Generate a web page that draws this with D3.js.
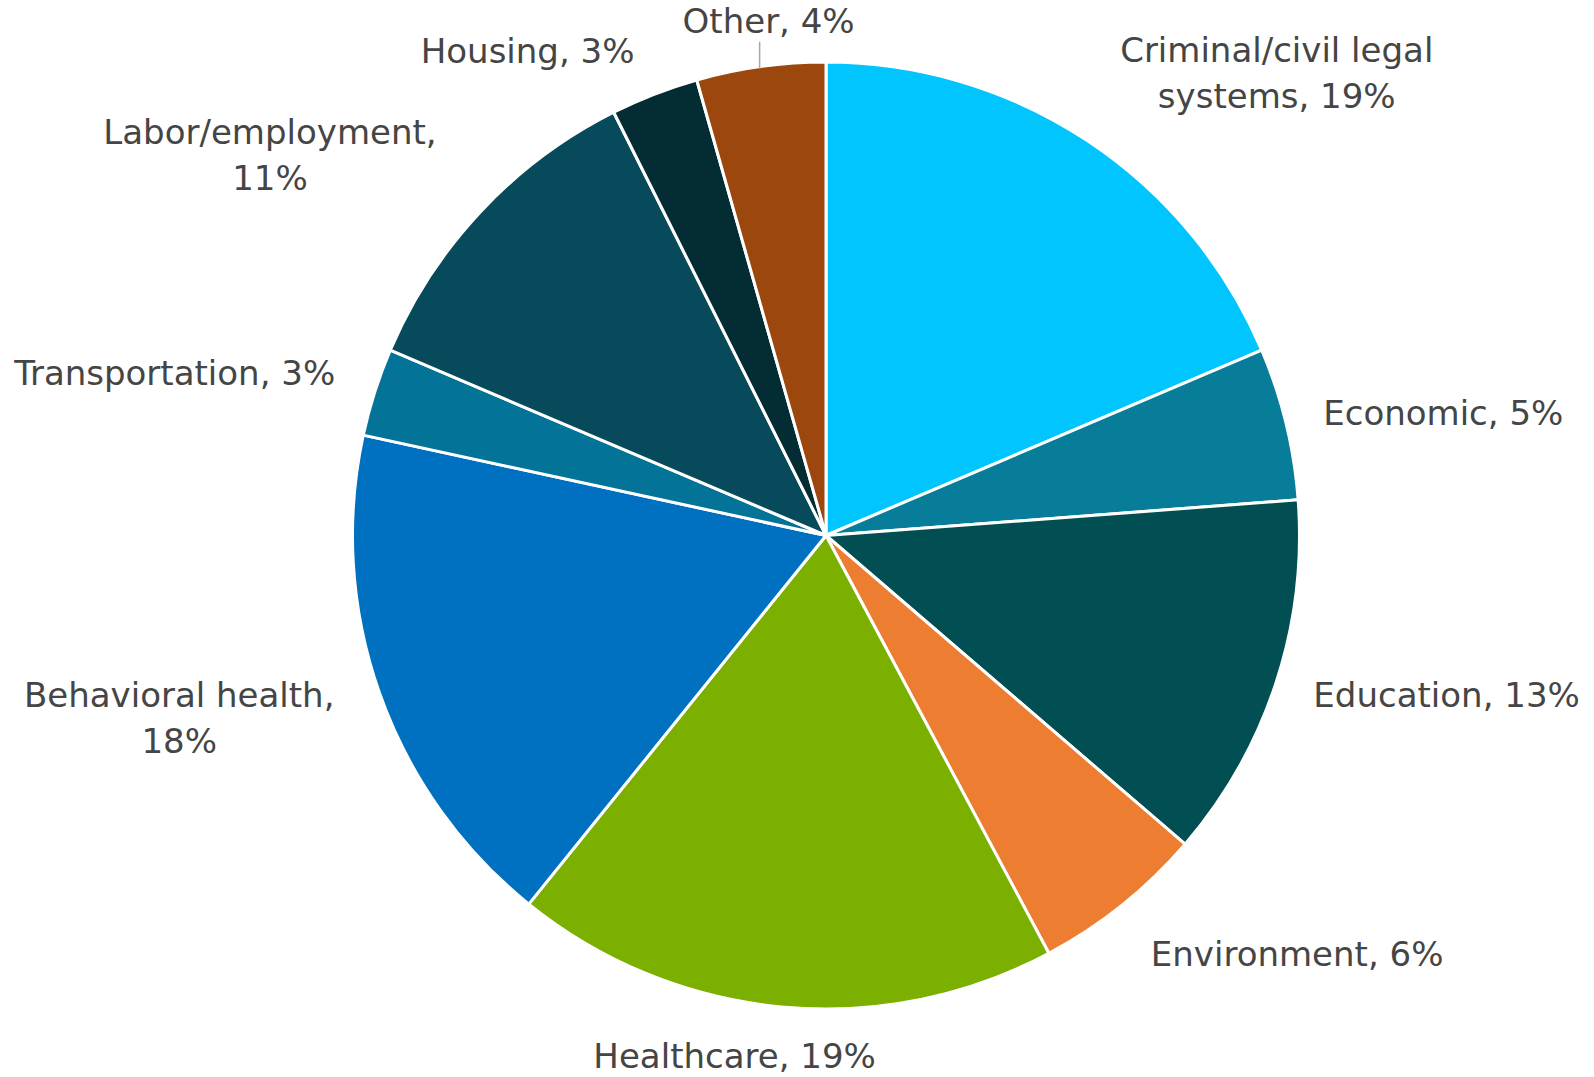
<!DOCTYPE html>
<html>
<head>
  <title>Share by category</title>
  <script src="https://cdn.jsdelivr.net/npm/d3@7"></script>
  <style>
    body { margin: 0; background: #fff; }
    .label { font-family: "DejaVu Sans", sans-serif; font-size: 34px; fill: #454545; }
  </style>
</head>
<body>
  <div id="chart"></div>
  <script>
    // Categories clockwise from 12 o'clock
    const categories = ["Criminal/civil legal systems", "Economic", "Education", "Environment",
      "Healthcare", "Behavioral health", "Transportation", "Labor/employment", "Housing", "Other"];
    const shares = [18.6, 5.2, 12.5, 5.9, 18.6, 17.6, 3.0, 11.2, 3.0, 4.4];
    const colors = ["#00C5FF", "#077D9A", "#014F53", "#ED7D31", "#7BAF00",
      "#0070C0", "#037497", "#064A5B", "#032D32", "#9C470D"];

    // label nudges from the outer label ring, anchor, words on first line (0 = single line)
    const labelLayout = [
      { dx: 173, dy: -54, anchor: "middle", split: 2 },
      { dx: 8, dy: 9, anchor: "start", split: 0 },
      { dx: 9, dy: 14, anchor: "start", split: 0 },
      { dx: 10, dy: 38, anchor: "start", split: 0 },
      { dx: -44, dy: 31, anchor: "middle", split: 0 },
      { dx: -172, dy: 4, anchor: "middle", split: 2 },
      { dx: -11, dy: 2, anchor: "end", split: 0 },
      { dx: -189, dy: -47, anchor: "middle", split: 1 },
      { dx: -116, dy: -3, anchor: "middle", split: 0 },
      { dx: 12, dy: -4, anchor: "middle", split: 0, leader: true }
    ];

    const width = 1594, height = 1077;
    const cx = 826, cy = 535.5, radius = 473.5;

    const data = categories.map((name, i) => ({ name, value: shares[i], color: colors[i], layout: labelLayout[i] }));

    const svg = d3.select("#chart").append("svg")
        .attr("width", width)
        .attr("height", height);

    const g = svg.append("g").attr("transform", `translate(${cx},${cy})`);

    const pie = d3.pie().sort(null).value(d => d.value);
    const arc = d3.arc().innerRadius(0).outerRadius(radius);
    const labelArc = d3.arc().innerRadius(radius + 30).outerRadius(radius + 30);

    const arcs = pie(data);

    g.selectAll(".slice")
      .data(arcs)
      .enter().append("path")
        .attr("class", "slice")
        .attr("d", arc)
        .attr("fill", d => d.data.color)
        .attr("stroke", "#fff")
        .attr("stroke-width", 3)
        .attr("stroke-linejoin", "round");

    const lineGap = 46;

    arcs.forEach(d => {
      const L = d.data.layout;
      const [px, py] = labelArc.centroid(d);
      const x = px + L.dx, y = py + L.dy;
      const full = `${d.data.name}, ${Math.round(d.data.value)}%`;
      const words = full.split(" ");
      const lines = L.split ? [words.slice(0, L.split).join(" "), words.slice(L.split).join(" ")] : [full];

      const t = g.append("text")
        .attr("class", "label")
        .attr("text-anchor", L.anchor)
        .attr("x", x)
        .attr("y", y);
      lines.forEach((ln, i) => {
        t.append("tspan").attr("x", x).attr("dy", i === 0 ? 0 : lineGap).text(ln);
      });

      // thin leader for the small top slice
      if (L.leader) {
        const lx = x - 9;
        const edgeY = -Math.sqrt(radius * radius - lx * lx);
        g.append("line")
          .attr("x1", lx).attr("x2", lx)
          .attr("y1", y + 9).attr("y2", edgeY + 2)
          .attr("stroke", "#a6a6a6")
          .attr("stroke-width", 1.5);
      }
    });
  </script>
</body>
</html>
